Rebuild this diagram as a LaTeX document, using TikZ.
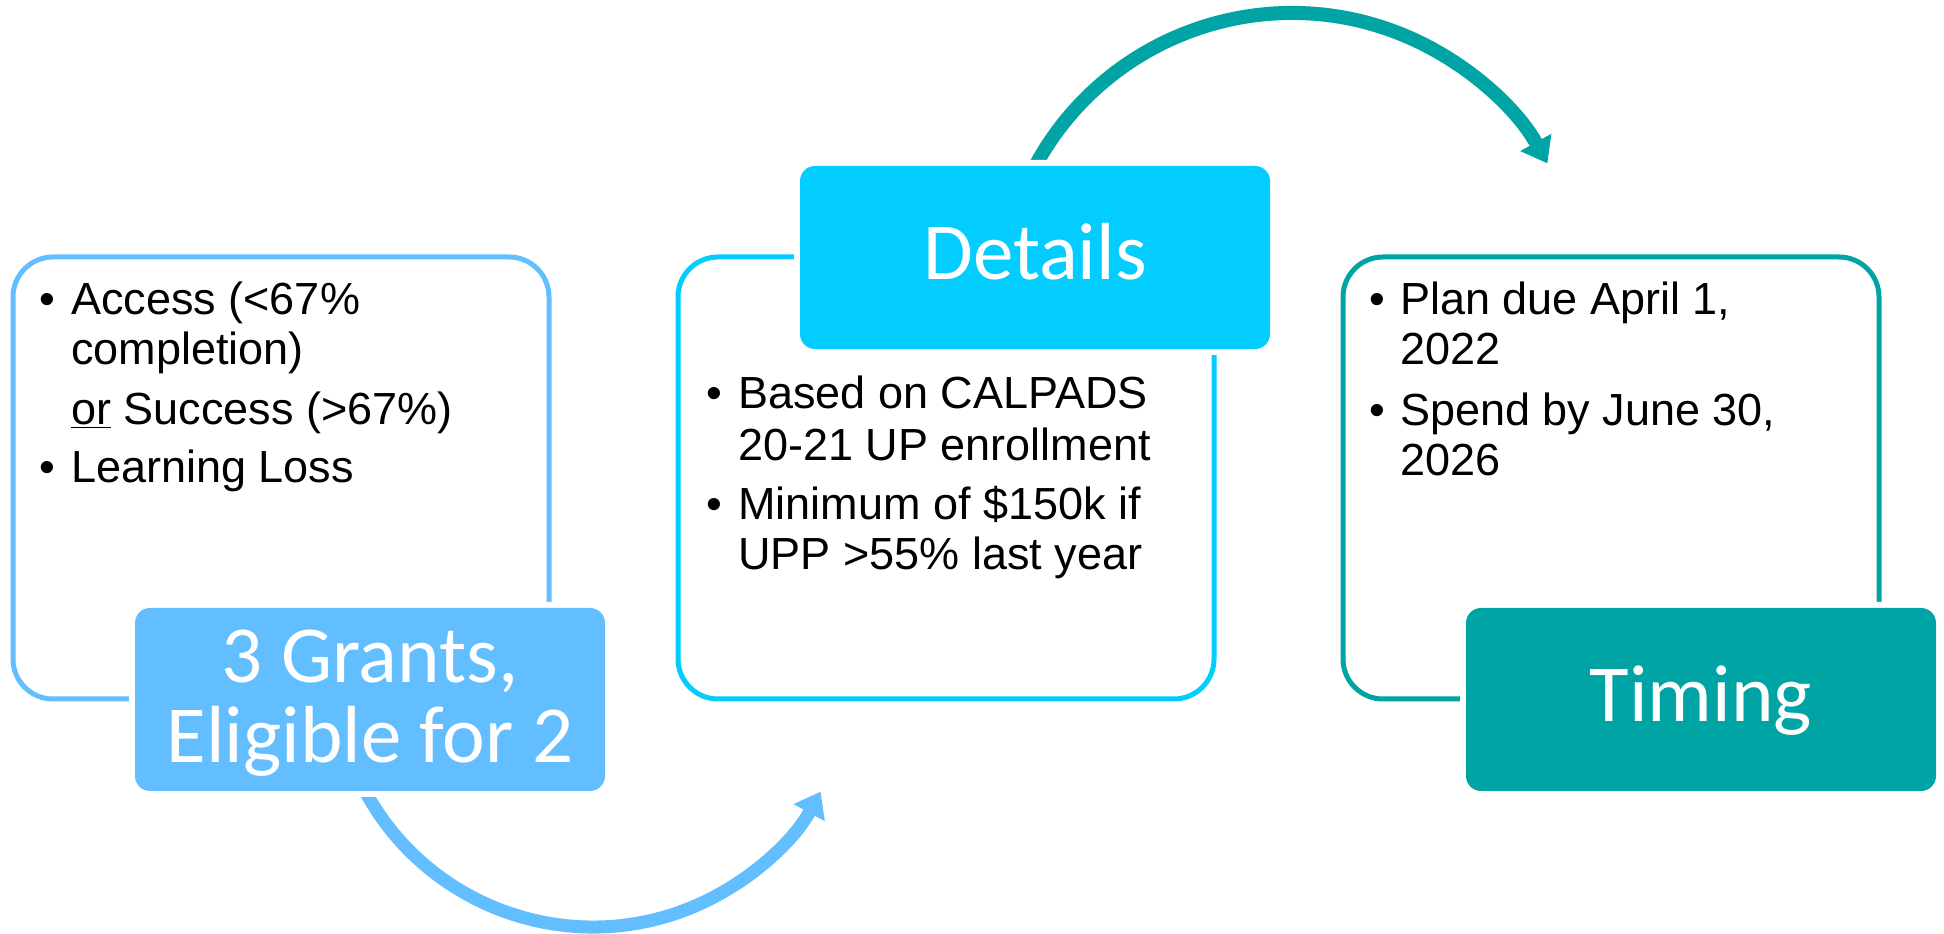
\documentclass[tikz,border=0pt]{standalone}
\usepackage{fontspec}
\setmainfont{Liberation Sans}
\newfontfamily\titlefont{Carlito}
\usetikzlibrary{arrows.meta,backgrounds}
\definecolor{gblue}{HTML}{63BEFF}
\definecolor{dcyan}{HTML}{03CDFF}
\definecolor{tteal}{HTML}{01A4A4}
\begin{document}
\begin{tikzpicture}[x=1pt,y=1pt,
  outline/.style={draw=#1, line width=5pt, rounded corners=40pt, minimum width=536pt, minimum height=442pt, inner sep=0pt, outer sep=0pt},
  titlebox/.style={fill=#1, preaction={draw=white, line width=12pt}, rounded corners=15pt, minimum width=470pt, minimum height=183pt, inner sep=0pt, outer sep=0pt},
  titletext/.style={text=white, font=\titlefont\fontsize{81}{80}\selectfont, inner sep=0pt, anchor=base},
  bodytext/.style={font=\fontsize{45}{50}\selectfont, inner sep=0pt, anchor=base west},
  bul/.style={font=\fontsize{45}{50}\selectfont, inner sep=0pt, anchor=base},
  flow/.style={line width=#1, -{Triangle[length=24pt,width=34pt]}}
]
\useasboundingbox (0,0) rectangle (1944,934);

% outlines
\node[outline=gblue] (o1) at (281,456) {};
\node[outline=dcyan] (o2) at (946,456) {};
\node[outline=tteal] (o3) at (1611,456) {};

% title boxes
\node[titlebox=gblue] (g) at (370,234.5) {};
\node[titlebox=dcyan] (d) at (1035,676.5) {};
\node[titlebox=tteal] (t) at (1701,234.5) {};

\node[titletext] (gt1) at (370,251) {3 Grants,};
\node[titletext] (gt2) at (370,171) {Eligible for 2};
\node[titletext] (dt) at (1035,654) {Details};
\node[titletext] (tt) at (1701,212) {Timing};

% connectors (behind the boxes' white margins)
\coordinate (c1) at (1292,629);
\coordinate (c2) at (593,266);
\begin{pgfonlayer}{background}
\fill[white] (0,0) rectangle (1944,934);
\draw[flow=14pt, tteal] (c1) ++(155:292) coordinate (a1) arc[start angle=155, end angle=29, radius=292] coordinate (a1e);
\draw[flow=13pt, gblue] (c2) ++(205:259) coordinate (a2) arc[start angle=205, end angle=331.5, radius=259] coordinate (a2e);
\end{pgfonlayer}

% left box text
\node[bul] (b11) at (47,619) {•};
\node[bodytext] (l11) at (71,619) {Access (<67\%};
\node[bodytext] (l12) at (71,569) {completion)};
\node[bodytext] (l13) at (71,509) {\underline{or} Success (>67\%)};
\node[bul] (b12) at (47,451) {•};
\node[bodytext] (l14) at (71,451) {Learning Loss};

% middle box text
\node[bul] (b21) at (714,525) {•};
\node[bodytext] (l21) at (738,525) {Based on CALPADS};
\node[bodytext] (l22) at (738,473) {20-21 UP enrollment};
\node[bul] (b22) at (714,414) {•};
\node[bodytext] (l23) at (738,414) {Minimum of \$150k if};
\node[bodytext] (l24) at (738,364) {UPP >55\% last year};

% right box text
\node[bul] (b31) at (1377,619) {•};
\node[bodytext] (l31) at (1400,619) {Plan due April 1,};
\node[bodytext] (l32) at (1400,569) {2022};
\node[bul] (b32) at (1377,508) {•};
\node[bodytext] (l33) at (1400,508) {Spend by June 30,};
\node[bodytext] (l34) at (1400,458) {2026};
\end{tikzpicture}
\end{document}
